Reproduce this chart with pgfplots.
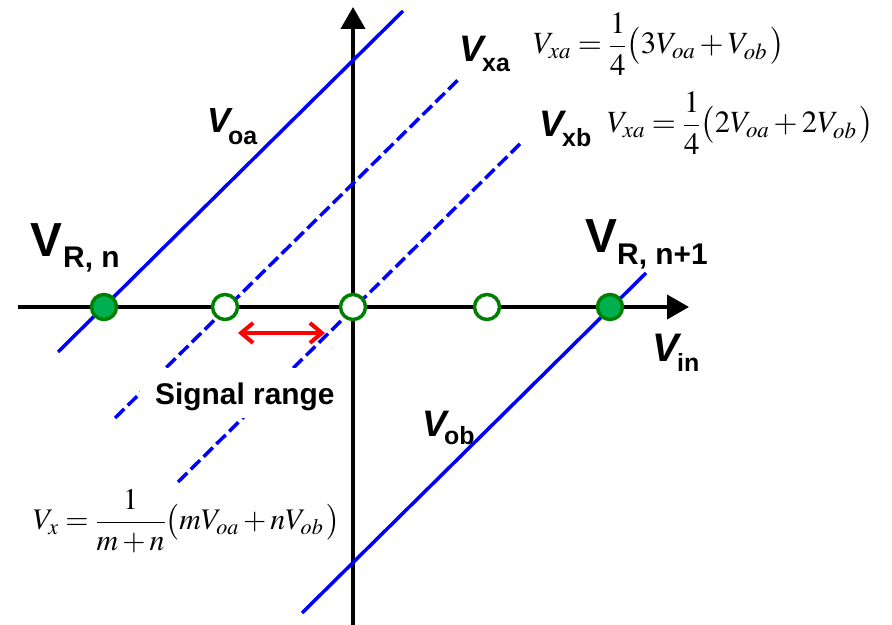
\documentclass[border=0pt]{standalone}
\usepackage{mathptmx}
\usepackage{fontspec}
\setmainfont{Liberation Sans}
\usepackage{pgfplots}
\pgfplotsset{compat=1.18}
\usetikzlibrary{arrows.meta}
\definecolor{gstroke}{RGB}{0,128,0}
\definecolor{gfill}{RGB}{0,176,80}
\definecolor{lblue}{RGB}{0,0,255}
\newcommand{\fs}[1]{\fontsize{#1}{#1}\selectfont}
\begin{document}
\begin{tikzpicture}
\begin{axis}[name=ax,
  width=892bp, height=625bp, scale only axis, hide axis, clip=false,
  xmin=-353, xmax=539, ymin=-318, ymax=307]
% axes
\addplot[black, line width=4bp, -{Triangle[length=22bp,width=24bp]}] coordinates {(-335,0) (336,0)};
\addplot[black, line width=4bp, -{Triangle[length=22bp,width=24bp]}] coordinates {(0,-318) (0,300)};
% lines
\addplot[lblue, line width=3.5bp] coordinates {(-295,-45) (50,296)};
\addplot[lblue, line width=3.5bp, dash pattern=on 13bp off 5bp] coordinates {(-238,-111) (107,229)};
\addplot[lblue, line width=3.5bp, dash pattern=on 13bp off 5bp] coordinates {(-175,-175) (170,166)};
\addplot[lblue, line width=3.5bp] coordinates {(-51,-306) (293,34)};
% signal range label (white box)
\node[anchor=base west, fill=white, inner xsep=15bp, inner ysep=0pt, text height=37bp, text depth=13bp, font=\fs{30}\bfseries] at (axis cs:-213,-98) {Signal range};
% red arrow
\addplot[red, line width=4bp, {Straight Barb[length=12bp,width=20bp]}-{Straight Barb[length=12bp,width=20bp]}] coordinates {(-115,-26) (-28,-26)};
% points
\addplot[only marks, mark=*, mark size=12.5bp, draw=gstroke, fill=gfill, line width=3.5bp] coordinates {(-249,0) (257,0)};
\addplot[only marks, mark=*, mark size=12.5bp, draw=gstroke, fill=white, line width=3.5bp] coordinates {(-128,0) (0,0) (134,0)};
% labels
\node[anchor=base west, inner sep=0pt, font=\fs{48}\bfseries] at (axis cs:-323,50) {V};
\node[anchor=base west, inner sep=0pt, font=\fs{30}\bfseries] at (axis cs:-290,39) {R, n};
\node[anchor=base west, inner sep=0pt, font=\fs{48}\bfseries] at (axis cs:232,54) {V};
\node[anchor=base west, inner sep=0pt, font=\fs{30}\bfseries] at (axis cs:264,42) {R, n+1};
\node[anchor=base west, inner sep=0pt, font=\fs{35}\bfseries\itshape] at (axis cs:-146,174) {V};
\node[anchor=base west, inner sep=0pt, font=\fs{25}\bfseries] at (axis cs:-125,162) {oa};
\node[anchor=base west, inner sep=0pt, font=\fs{37}\bfseries\itshape] at (axis cs:106,245) {V};
\node[anchor=base west, inner sep=0pt, font=\fs{25}\bfseries] at (axis cs:129,235) {xa};
\node[anchor=base west, inner sep=0pt, font=\fs{37}\bfseries\itshape] at (axis cs:186,170) {V};
\node[anchor=base west, inner sep=0pt, font=\fs{25}\bfseries] at (axis cs:209,160) {xb};
\node[anchor=base west, inner sep=0pt, font=\fs{40}\bfseries\itshape] at (axis cs:299,-55) {V};
\node[anchor=base west, inner sep=0pt, font=\fs{25}\bfseries] at (axis cs:324,-65) {in};
\node[anchor=base west, inner sep=0pt, font=\fs{37}\bfseries\itshape] at (axis cs:69,-130) {V};
\node[anchor=base west, inner sep=0pt, font=\fs{25}\bfseries] at (axis cs:91,-138) {ob};
% formulas
\node[anchor=base west, inner sep=0pt, font=\fs{31}] at (axis cs:180,253) {$\displaystyle V_{xa}=\frac{1}{4}\big(3V_{oa}+V_{ob}\,\big)$};
\node[anchor=base west, inner sep=0pt, font=\fs{31}] at (axis cs:254,174) {$\displaystyle V_{xa}=\frac{1}{4}\big(2V_{oa}+2V_{ob}\,\big)$};
\node[anchor=base west, inner sep=0pt, font=\fs{30}] at (axis cs:-320,-223) {$\displaystyle V_{x}=\frac{1}{m+n}\big(mV_{oa}+nV_{ob}\,\big)$};
\end{axis}
\pgfresetboundingbox
\path (ax.south west) rectangle (ax.north east);
\end{tikzpicture}
\end{document}
